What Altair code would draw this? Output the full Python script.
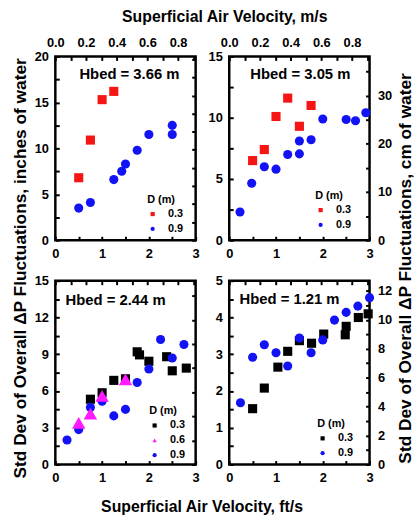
import altair as alt
import pandas as pd

FONT = "Liberation Sans"
W, H = 142, 186

# ---------------- data: x = superficial air velocity (ft/s), y = std dev (inches of water)
hb366_d03_x = [0.5, 0.75, 1.0, 1.25]
hb366_d03_y = [6.8, 10.9, 15.3, 16.2]
hb366_d09_x = [0.5, 0.75, 1.25, 1.42, 1.5, 1.75, 2.0, 2.5, 2.5]
hb366_d09_y = [3.5, 4.1, 6.6, 7.5, 8.3, 9.8, 11.5, 12.5, 11.5]

hb305_d03_x = [0.5, 0.75, 1.0, 1.25, 1.5, 1.75]
hb305_d03_y = [6.5, 7.4, 10.1, 11.6, 9.3, 11.0]
hb305_d09_x = [0.23, 0.48, 0.75, 1.0, 1.25, 1.5, 1.5, 1.75, 2.0, 2.5, 2.7, 2.92]
hb305_d09_y = [2.3, 4.65, 6.0, 5.8, 7.0, 7.05, 8.1, 8.2, 9.9, 9.85, 9.75, 10.4]

hb244_d03_x = [0.75, 1.0, 1.25, 1.5, 1.75, 1.8, 2.0, 2.38, 2.5, 2.8]
hb244_d03_y = [5.33, 5.86, 6.87, 7.0, 9.2, 8.95, 8.43, 8.8, 7.65, 7.87]
hb244_d06_x = [0.5, 0.75, 1.0, 1.5]
hb244_d06_y = [3.4, 4.15, 5.6, 6.95]
hb244_d09_x = [0.25, 0.5, 0.75, 1.0, 1.25, 1.5, 1.75, 2.0, 2.25, 2.5, 2.75]
hb244_d09_y = [2.0, 2.85, 4.65, 5.17, 3.97, 4.5, 6.7, 7.8, 10.2, 8.7, 9.8]

hb121_d03_x = [0.5, 0.75, 1.04, 1.25, 1.5, 1.76, 2.02, 2.48, 2.5, 2.76, 2.97]
hb121_d03_y = [1.52, 2.08, 2.65, 3.08, 3.37, 3.3, 3.55, 3.53, 3.76, 4.0, 4.1]
hb121_d09_x = [0.24, 0.5, 0.75, 1.0, 1.25, 1.5, 1.75, 2.0, 2.25, 2.5, 2.75, 3.0]
hb121_d09_y = [1.68, 2.92, 3.26, 3.04, 2.68, 3.44, 3.04, 3.39, 3.93, 4.14, 4.31, 4.54]

hbed_labels = ["Hbed = 3.66 m", "Hbed = 3.05 m", "Hbed = 2.44 m", "Hbed = 1.21 m"]

# tick values / labels
ft_ticks = [0, 0.5, 1, 1.5, 2, 2.5, 3]
ft_labels = [0, 1, 2, 3]
ms_ticks = [0.0, 0.1, 0.2, 0.3, 0.4, 0.5, 0.6, 0.7, 0.8, 0.9]
ms_labels = [0.0, 0.2, 0.4, 0.6, 0.8]

SHAPES = {"0.3": "square", "0.6": "triangle-up", "0.9": "circle"}

LEFT_TITLE = "Std Dev of Overall \u0394P Fluctuations, inches of water"
RIGHT_TITLE = "Std Dev of Overall \u0394P Fluctuations, cm of water"
TOP_TITLE = "Superficial Air Velocity, m/s"
BOTTOM_TITLE = "Superficial Air Velocity, ft/s"


def label_expr(vals, fmt):
    arr = "[" + ",".join(repr(v) for v in vals) + "]"
    return "indexof(%s, datum.value) >= 0 ? format(datum.value, '%s') : ''" % (arr, fmt)


def frange(a, b, s):
    out = []
    v = a
    while v <= b + 1e-9:
        out.append(round(v, 4))
        v += s
    return out


def panel(series, colors, ymax, in_step, in_lab_step, cm_step, cm_lab_step,
          top_labels, right_labels, leg_title, leg_xy, txt, txt_xy,
          left_title=False, right_title=False, top_title=False, bottom_title=False):
    rows = []
    for d, xs, ys in series:
        for a, b in zip(xs, ys):
            rows.append({"v": a, "p": b, "D": d})
    df = pd.DataFrame(rows)
    dom = sorted(s[0] for s in series)
    in_ticks = frange(0, ymax, in_step)
    in_labs = frange(0, ymax, in_lab_step)
    cm_ticks = frange(0, ymax * 2.54, cm_step)
    cm_labs = frange(0, ymax * 2.54, cm_lab_step)

    xax = dict(orient="bottom", values=ft_ticks, labelExpr=label_expr(ft_labels, "d"),
               tickSize={"expr": "-4"}, labelPadding=11, labelFlush=False,
               labelOverlap=False, grid=False, domain=False)
    if bottom_title:
        xax.update(title=BOTTOM_TITLE, titleX=148, titleY=43, titleAlign="center",
                   titleBaseline="middle")
    else:
        xax.update(title=None)
    yax = dict(orient="left", values=in_ticks, labelExpr=label_expr(in_labs, "d"),
               tickSize={"expr": "-4"}, labelPadding=11, labelFlush=False,
               labelOverlap=False, grid=False, domain=False)
    if left_title:
        yax.update(title=LEFT_TITLE, titleX=-35, titleY=214, titleAngle=270,
                   titleAlign="center", titleBaseline="middle", titleFontSize=17.5)
    else:
        yax.update(title=None)

    leg = alt.Legend(orient="none", legendX=leg_xy[0], legendY=leg_xy[1],
                     direction="vertical", title=leg_title, titleFont=FONT,
                     titleFontSize=11, titleFontWeight="bold", labelFont=FONT,
                     labelFontSize=11, labelFontWeight="bold", symbolSize=18,
                     labelOffset=10, rowPadding=3, titlePadding=4, padding=0,
                     symbolStrokeWidth=0)

    cscale = alt.Scale(domain=dom, range=[colors[d] for d in dom])
    sscale = alt.Scale(domain=dom, range=[SHAPES[d] for d in dom])
    xscale = alt.Scale(domain=[0, 3], nice=False, zero=False)
    yscale = alt.Scale(domain=[0, ymax], nice=False, zero=False)

    base = alt.Chart(df)
    pts = base.transform_filter("datum.D != '0.6'").mark_point(
        filled=True, size=85, opacity=1).encode(
        x=alt.X("v:Q", scale=xscale, axis=alt.Axis(**xax)),
        y=alt.Y("p:Q", scale=yscale, axis=alt.Axis(**yax)),
        color=alt.Color("D:N", scale=cscale, legend=leg),
        shape=alt.Shape("D:N", scale=sscale, legend=leg),
    )
    layers = [pts]
    if "0.6" in dom:
        tri = base.transform_filter("datum.D == '0.6'").mark_point(
            filled=True, size=185, opacity=1).encode(
            x=alt.X("v:Q", scale=xscale, axis=None),
            y=alt.Y("p:Q", scale=yscale, axis=None),
            color=alt.Color("D:N", scale=cscale, legend=leg),
            shape=alt.Shape("D:N", scale=sscale, legend=leg),
        )
        layers.append(tri)

    tax = dict(orient="top", values=ms_ticks, tickSize={"expr": "-4"}, labelPadding=11,
               labelFlush=False, labelOverlap=False, grid=False, domain=False,
               labels=top_labels)
    if top_labels:
        tax["labelExpr"] = label_expr(ms_labels, ".1f")
    if top_title:
        tax.update(title=TOP_TITLE, titleX=171, titleY=-40, titleAlign="center",
                   titleBaseline="middle")
    else:
        tax.update(title=None)
    rax = dict(orient="right", values=cm_ticks, tickSize={"expr": "-4"}, labelPadding=12,
               labelFlush=False, labelOverlap=False, grid=False, domain=False,
               labels=right_labels)
    if right_labels:
        rax["labelExpr"] = label_expr(cm_labs, "d")
    if right_title:
        rax.update(title=RIGHT_TITLE, titleX=36, titleY=214, titleAngle=270,
                   titleAlign="center", titleBaseline="middle", titleFontSize=17.5)
    else:
        rax.update(title=None)

    inv = base.transform_calculate(
        ms="datum.v * 0.3048", cm="datum.p * 2.54"
    ).mark_point(opacity=0).encode(
        x=alt.X("ms:Q", scale=alt.Scale(domain=[0, 3 * 0.3048], nice=False, zero=False),
                axis=alt.Axis(**tax)),
        y=alt.Y("cm:Q", scale=alt.Scale(domain=[0, ymax * 2.54], nice=False, zero=False),
                axis=alt.Axis(**rax)),
    )
    layers.append(inv)

    text = alt.Chart(pd.DataFrame({"t": [txt]})).mark_text(
        font=FONT, fontSize=15, fontWeight="bold", color="black",
        align="center", baseline="middle"
    ).encode(text="t:N", x=alt.value(txt_xy[0]), y=alt.value(txt_xy[1]))
    layers.append(text)

    return alt.layer(*layers).resolve_scale(
        x="independent", y="independent").properties(width=W, height=H)


RED, BLUE, BLACK, MAG = "#f51515", "#1212f5", "#000000", "#ff1aff"

p1 = panel([("0.3", hb366_d03_x, hb366_d03_y), ("0.9", hb366_d09_x, hb366_d09_y)],
           {"0.3": RED, "0.9": BLUE}, 20, 2.5, 5, 5, 10, True, False,
           "D  (m)", (93, 139), hbed_labels[0], (75, 18),
           left_title=True, top_title=True)
p2 = panel([("0.3", hb305_d03_x, hb305_d03_y), ("0.9", hb305_d09_x, hb305_d09_y)],
           {"0.3": RED, "0.9": BLUE}, 15, 2.5, 5, 5, 10, True, True,
           "D (m)", (87, 135), hbed_labels[1], (72, 18),
           right_title=True)
p3 = panel([("0.3", hb244_d03_x, hb244_d03_y), ("0.9", hb244_d09_x, hb244_d09_y),
            ("0.6", hb244_d06_x, hb244_d06_y)],
           {"0.3": BLACK, "0.6": MAG, "0.9": BLUE}, 15, 1.5, 3, 5, 10, False, False,
           "D  (m)", (95, 126), hbed_labels[2], (61, 20),
           bottom_title=True)
p4 = panel([("0.3", hb121_d03_x, hb121_d03_y), ("0.9", hb121_d09_x, hb121_d09_y)],
           {"0.3": BLACK, "0.9": BLUE}, 5, 0.5, 1, 1, 2, False, True,
           "D  (m)", (89, 139), hbed_labels[3], (61, 19))

chart = alt.concat(p1, p2, p3, p4, columns=2, spacing={"row": 41, "column": 34},
                   bounds="flush").resolve_scale(
    color="independent", shape="independent"
).properties(
    padding={"left": 10, "top": 4, "right": 0, "bottom": 0}
).configure_view(
    stroke="black", strokeWidth=2.5
).configure_axis(
    labelFont=FONT, labelFontSize=13, labelFontWeight="bold", labelColor="black",
    titleFont=FONT, titleFontSize=16, titleFontWeight="bold", titleColor="black",
    tickColor="black", tickWidth=2
)

chart.save("out.html", embed_options={"renderer": "svg", "actions": False})
